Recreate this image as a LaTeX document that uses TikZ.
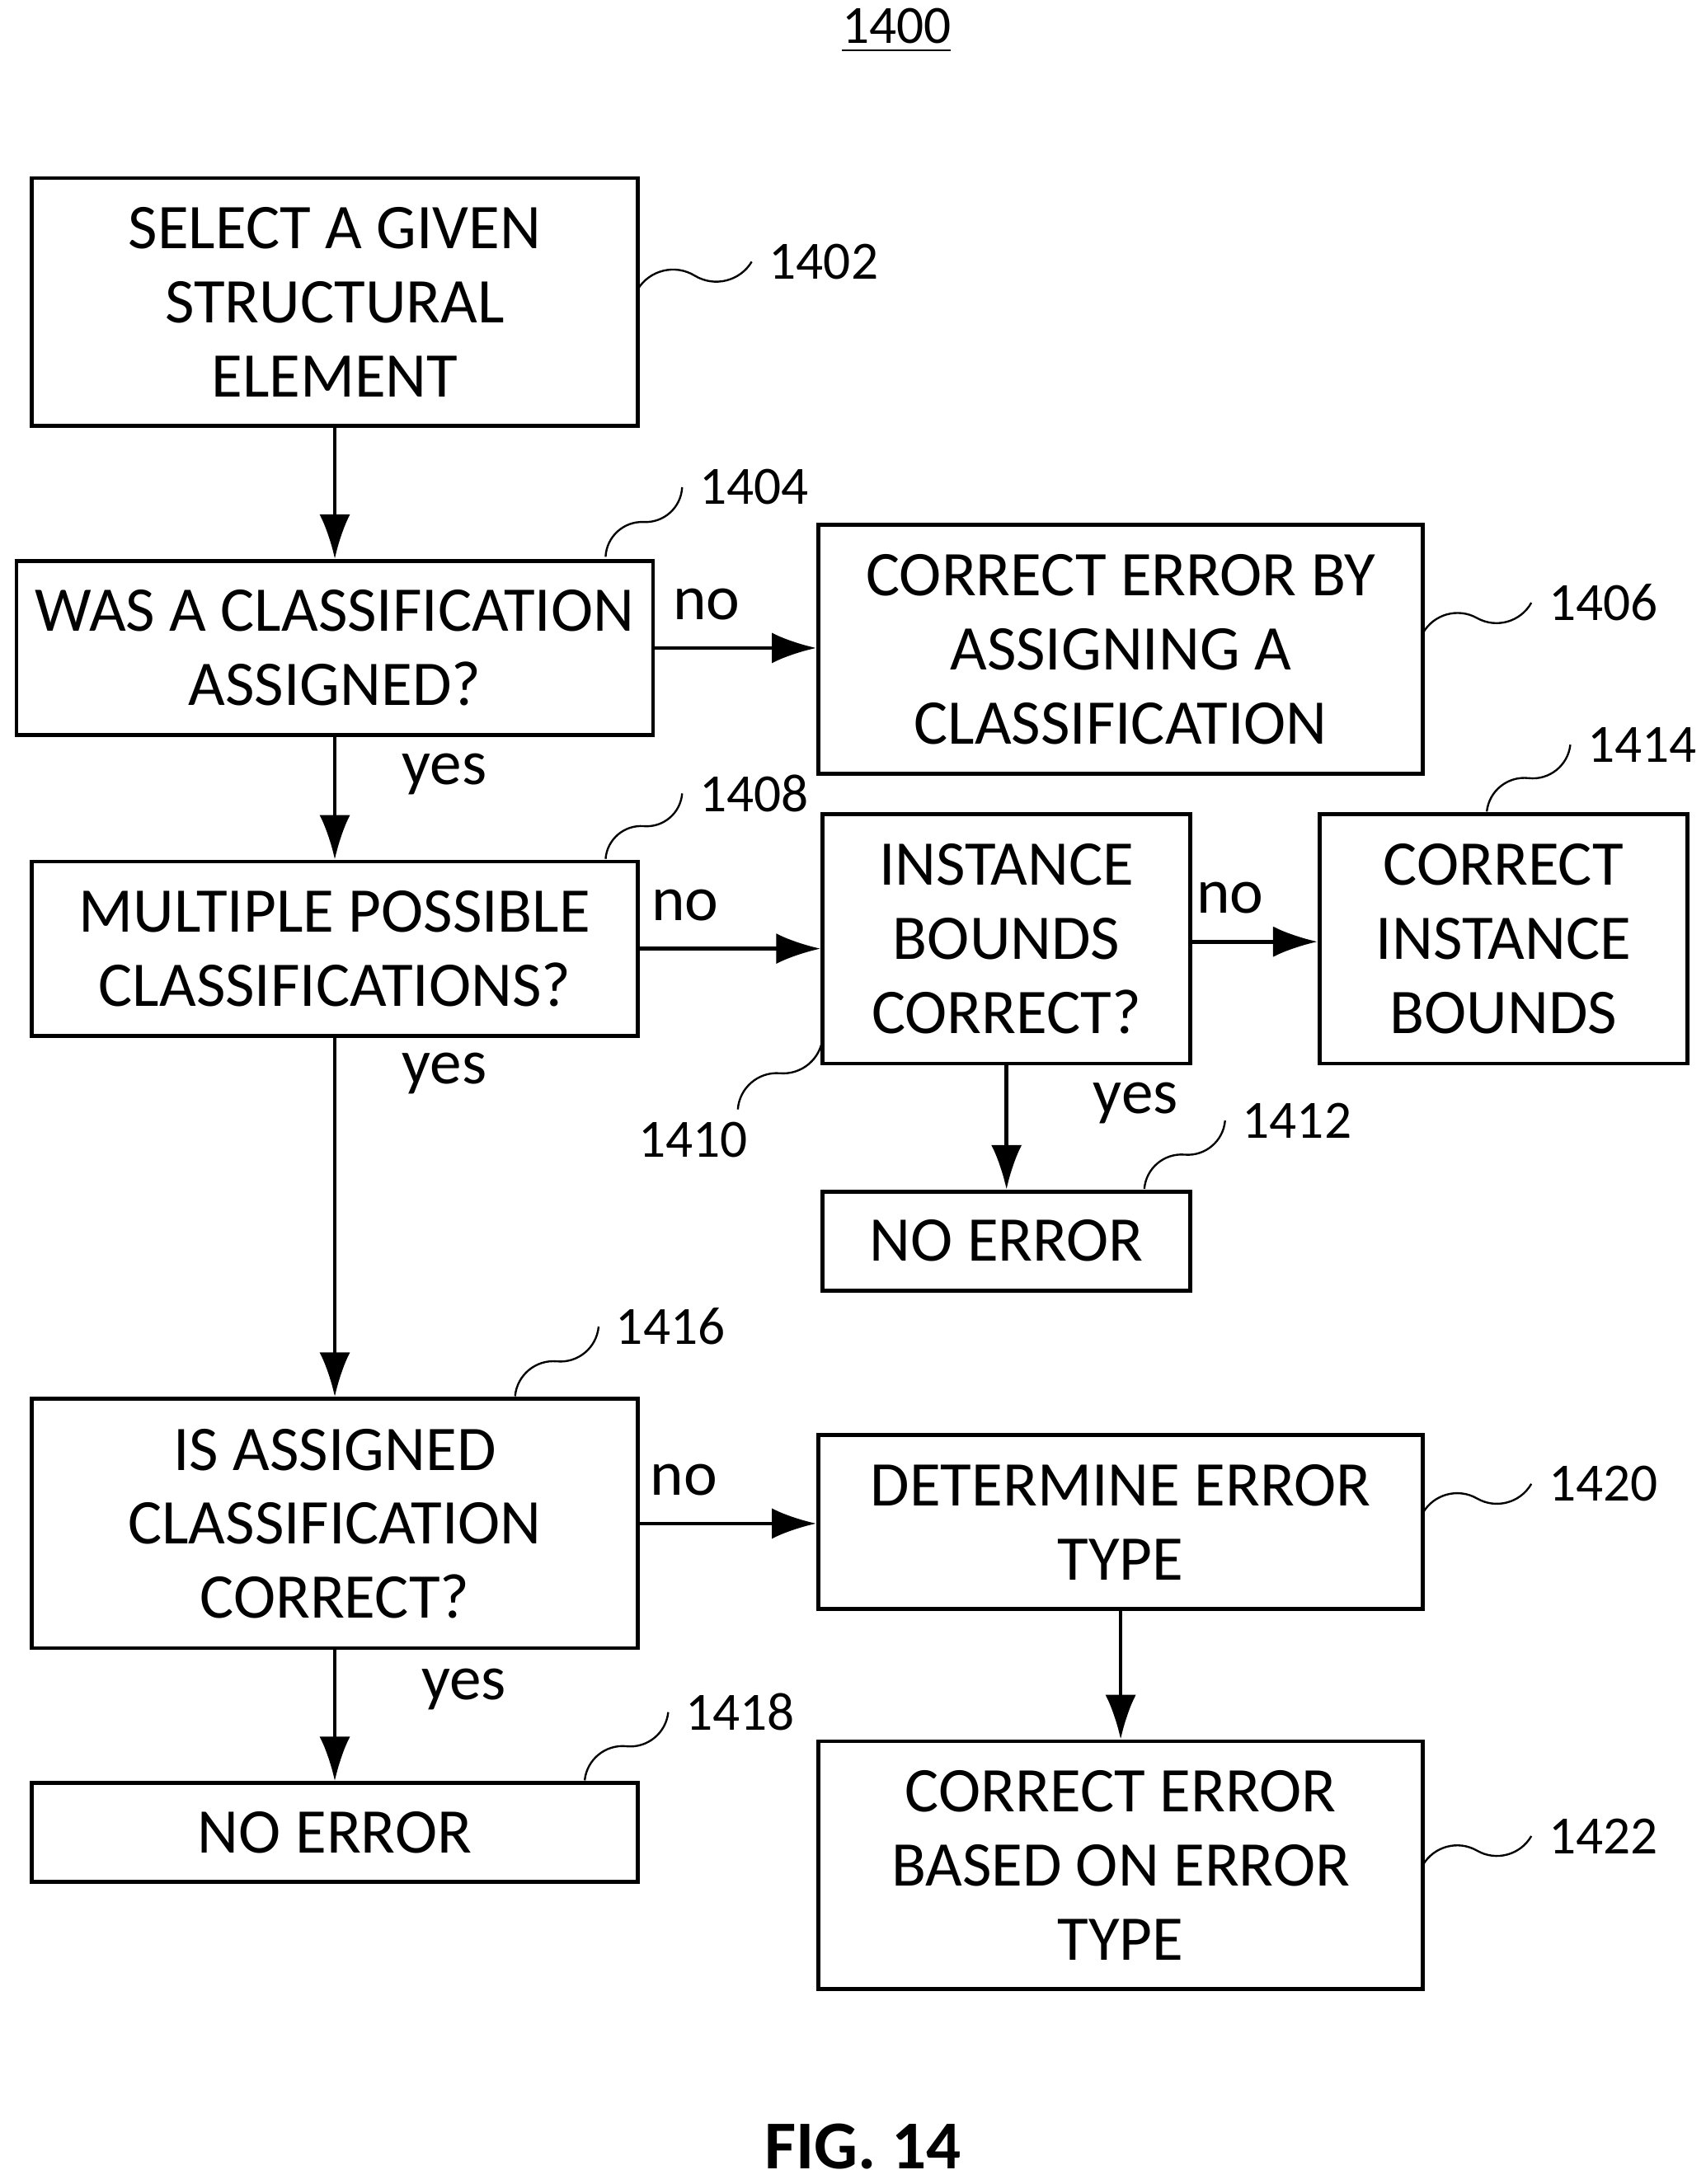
\documentclass[tikz,border=0pt]{standalone}
\usepackage{fontspec}
\setmainfont{Carlito}
\usetikzlibrary{arrows.meta,calc}
\tikzset{
  box/.style={draw,thick,align=center,inner sep=0pt,font=\fontsize{13}{15.1}\selectfont},
  flow/.style={thick,-{Latex[length=3.2mm,width=2.2mm]}},
  lbl/.style={font=\fontsize{13}{15}\selectfont},
  refnum/.style={font=\fontsize{11}{13}\selectfont}
}
\newcommand{\squig}[3]{%
  \draw (#1) to[bend left=45] ($(#1)!0.5!(#2)$) to[bend right=45] (#2);
  \node[refnum,anchor=west] at (#2) {#3};}
\begin{document}
\begin{tikzpicture}[x=0.01cm,y=-0.01cm]
  \useasboundingbox (0,0) rectangle (1225,1569);
  % Title and caption
  \node[refnum] (title) at (644,22) {\underline{1400}};
  \node[font=\fontsize{14}{16}\selectfont\bfseries] (fig) at (620,1542) {FIG. 14};

  % Boxes
  \node[box,minimum width=4.35cm,minimum height=1.78cm] (n1402) at (240.5,217) {SELECT A GIVEN\\STRUCTURAL\\ELEMENT};
  \node[box,minimum width=4.57cm,minimum height=1.25cm] (n1404) at (240.5,465.5) {WAS A CLASSIFICATION\\ASSIGNED?};
  \node[box,minimum width=4.34cm,minimum height=1.79cm] (n1406) at (805,466.5) {CORRECT ERROR BY\\ASSIGNING A\\CLASSIFICATION};
  \node[box,minimum width=4.35cm,minimum height=1.25cm] (n1408) at (240.5,681.5) {MULTIPLE POSSIBLE\\CLASSIFICATIONS?};
  \node[box,minimum width=2.64cm,minimum height=1.79cm] (n1410) at (723,674.5) {INSTANCE\\BOUNDS\\CORRECT?};
  \node[box,minimum width=2.64cm,minimum height=1.79cm] (n1414) at (1080,674.5) {CORRECT\\INSTANCE\\BOUNDS};
  \node[box,minimum width=2.64cm,minimum height=0.71cm] (n1412) at (723,891.5) {NO ERROR};
  \node[box,minimum width=4.35cm,minimum height=1.79cm] (n1416) at (240.5,1094.5) {IS ASSIGNED\\CLASSIFICATION\\CORRECT?};
  \node[box,minimum width=4.34cm,minimum height=1.25cm] (n1420) at (805,1093.5) {DETERMINE ERROR\\TYPE};
  \node[box,minimum width=4.35cm,minimum height=0.71cm] (n1418) at (240.5,1316.5) {NO ERROR};
  \node[box,minimum width=4.34cm,minimum height=1.78cm] (n1422) at (805,1340) {CORRECT ERROR\\BASED ON ERROR\\TYPE};

  % Connectors
  \draw[flow] (n1402) -- (n1404);
  \draw[flow] (n1404.east) -- (n1406.west|-n1404.east) node[lbl,pos=0.32,above=2pt] {no};
  \draw[flow] (n1404) -- (n1408) node[lbl,pos=0.3,right=10pt] {yes};
  \draw[flow] (n1408.east) -- (n1410.west|-n1408.east) node[lbl,pos=0.25,above=2pt] {no};
  \draw[flow] ($(n1410.east)+(0,2)$) -- ($(n1414.west)+(0,2)$) node[lbl,pos=0.3,above=2pt] {no};
  \draw[flow] (n1410) -- (n1412) node[lbl,pos=0.3,right=14pt] {yes};
  \draw[flow] (n1408) -- (n1416) node[lbl,pos=0.1,right=10pt] {yes};
  \draw[flow] (n1416.east) -- (n1420.west|-n1416.east) node[lbl,pos=0.25,above=2pt] {no};
  \draw[flow] (n1416) -- (n1418) node[lbl,pos=0.3,right=14pt] {yes};
  \draw[flow] (n1420) -- (n1422);

  % Reference numerals
  \squig{458,208}{540,188}{1402}
  \squig{435,400}{490,350}{1404}
  \squig{1022,455}{1100,433}{1406}
  \squig{435,617}{490,570}{1408}
  \squig{1068,583}{1128,535}{1414}
  \draw (591,745) to[bend left=45] (560,771) to[bend right=45] (530,797);
  \node[refnum] (r1410) at (498,819) {1410};
  \squig{822,854}{880,805}{1412}
  \squig{370,1003}{430,953}{1416}
  \squig{1022,1087}{1100,1066}{1420}
  \squig{420,1279}{480,1230}{1418}
  \squig{1022,1340}{1100,1319}{1422}
\end{tikzpicture}
\end{document}
